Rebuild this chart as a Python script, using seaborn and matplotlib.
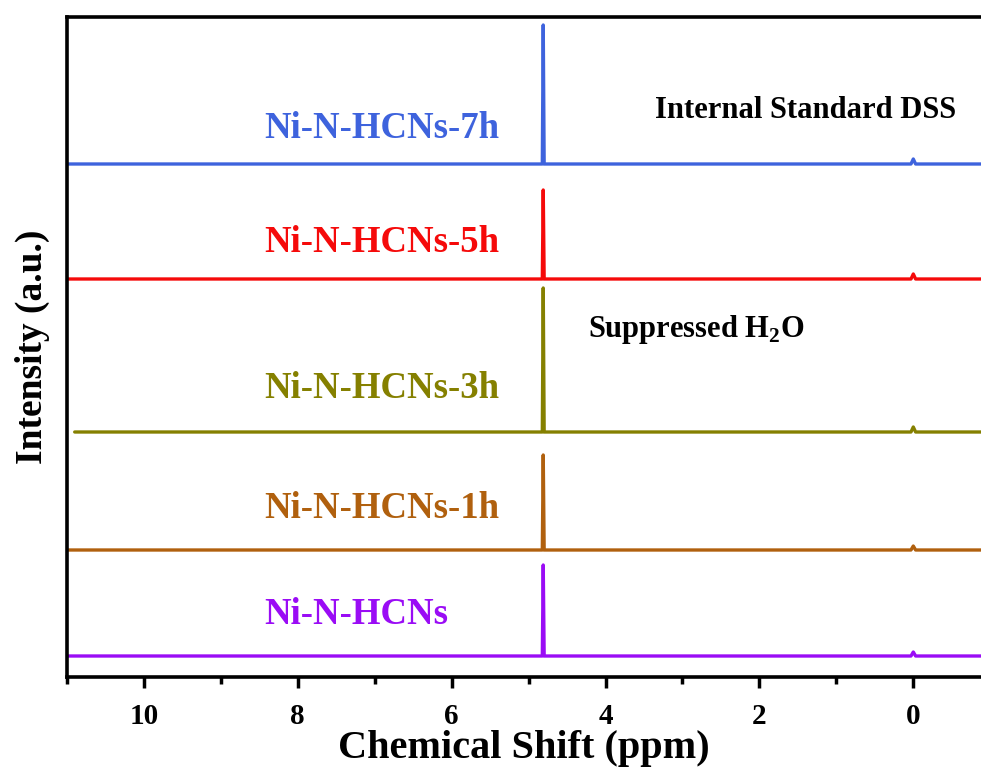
import matplotlib
matplotlib.use("Agg")
import matplotlib.pyplot as plt
import seaborn as sns
import pandas as pd
from matplotlib.ticker import MultipleLocator

sns.set_style("white")
plt.rcParams['font.family'] = ['Liberation Serif', 'DejaVu Serif']
plt.rcParams['mathtext.fontset'] = 'custom'
plt.rcParams['mathtext.rm'] = 'Liberation Serif'
plt.rcParams['mathtext.bf'] = 'Liberation Serif:bold'
plt.rcParams['text.color'] = 'black'
plt.rcParams['axes.labelcolor'] = 'black'
plt.rcParams['xtick.color'] = 'black'

# ---- data (intensities in arbitrary units) ----
samples = ["Ni-N-HCNs", "Ni-N-HCNs-1h", "Ni-N-HCNs-3h", "Ni-N-HCNs-5h", "Ni-N-HCNs-7h"]
colors = ["#9A0CF5", "#B0600E", "#858000", "#F50A0A", "#3E63DD"]
ppm_points = [11.0, 4.822, 4.81, 4.798, 0.03, 0.0, -0.03, -0.9]
ppm_start = [11.0, 11.0, 10.9, 11.0, 11.0]
baselines = [21, 127, 245, 398, 513]
h2o_peaks = [91, 95, 144, 89, 139]
dss_peaks = [4, 4, 5, 5, 5]
label_y = [63, 168, 289, 434, 549]

rows = []
for s, st, b, hp, dp in zip(samples, ppm_start, baselines, h2o_peaks, dss_peaks):
    xs = [st] + ppm_points[1:]
    ys = [b, b, b + hp, b, b, b + dp, b, b]
    for x, y in zip(xs, ys):
        rows.append({"ppm": x, "I": y, "sample": s})
df = pd.DataFrame(rows)

fig = plt.figure(figsize=(9.81, 7.76), dpi=100)
ax = fig.add_axes([67/981, 1-677/776, 1-67/981, (677-17)/776])

sns.lineplot(data=df, x="ppm", y="I", hue="sample", palette=dict(zip(samples, colors)),
             sort=False, estimator=None, lw=2.4, legend=False, ax=ax)

ax.set_xlim(11.0, -0.88)
ax.set_ylim(0, 660)

for s, c, ly in zip(samples, colors, label_y):
    ax.text(8.43, ly, s, color=c, fontsize=26.5, fontweight='bold', ha='left', va='center')

ax.text(3.36, 567, "Internal Standard DSS", fontsize=22, fontweight='bold', ha='left', va='center')
ax.text(4.23, 347, r"Suppressed H$_\mathbf{2}$O", fontsize=22, fontweight='bold', ha='left', va='center')

ax.xaxis.set_major_locator(MultipleLocator(2))
ax.xaxis.set_minor_locator(MultipleLocator(1))
ax.tick_params(axis='x', which='major', direction='out', length=8, width=2.5, labelsize=21, pad=11, bottom=True)
ax.tick_params(axis='x', which='minor', direction='out', length=5, width=2.5, bottom=True)
for lab in ax.get_xticklabels():
    lab.set_fontweight('bold')
ax.set_yticks([])
ax.spines['right'].set_visible(False)
for sp in ['left', 'bottom', 'top']:
    ax.spines[sp].set_linewidth(2.6)
    ax.spines[sp].set_color('black')

ax.set_xlabel("Chemical Shift (ppm)", fontsize=29, fontweight='bold', labelpad=0)
ax.set_ylabel("Intensity (a.u.)", fontsize=27, fontweight='bold', labelpad=12)

fig.savefig("out.png", dpi=100)
